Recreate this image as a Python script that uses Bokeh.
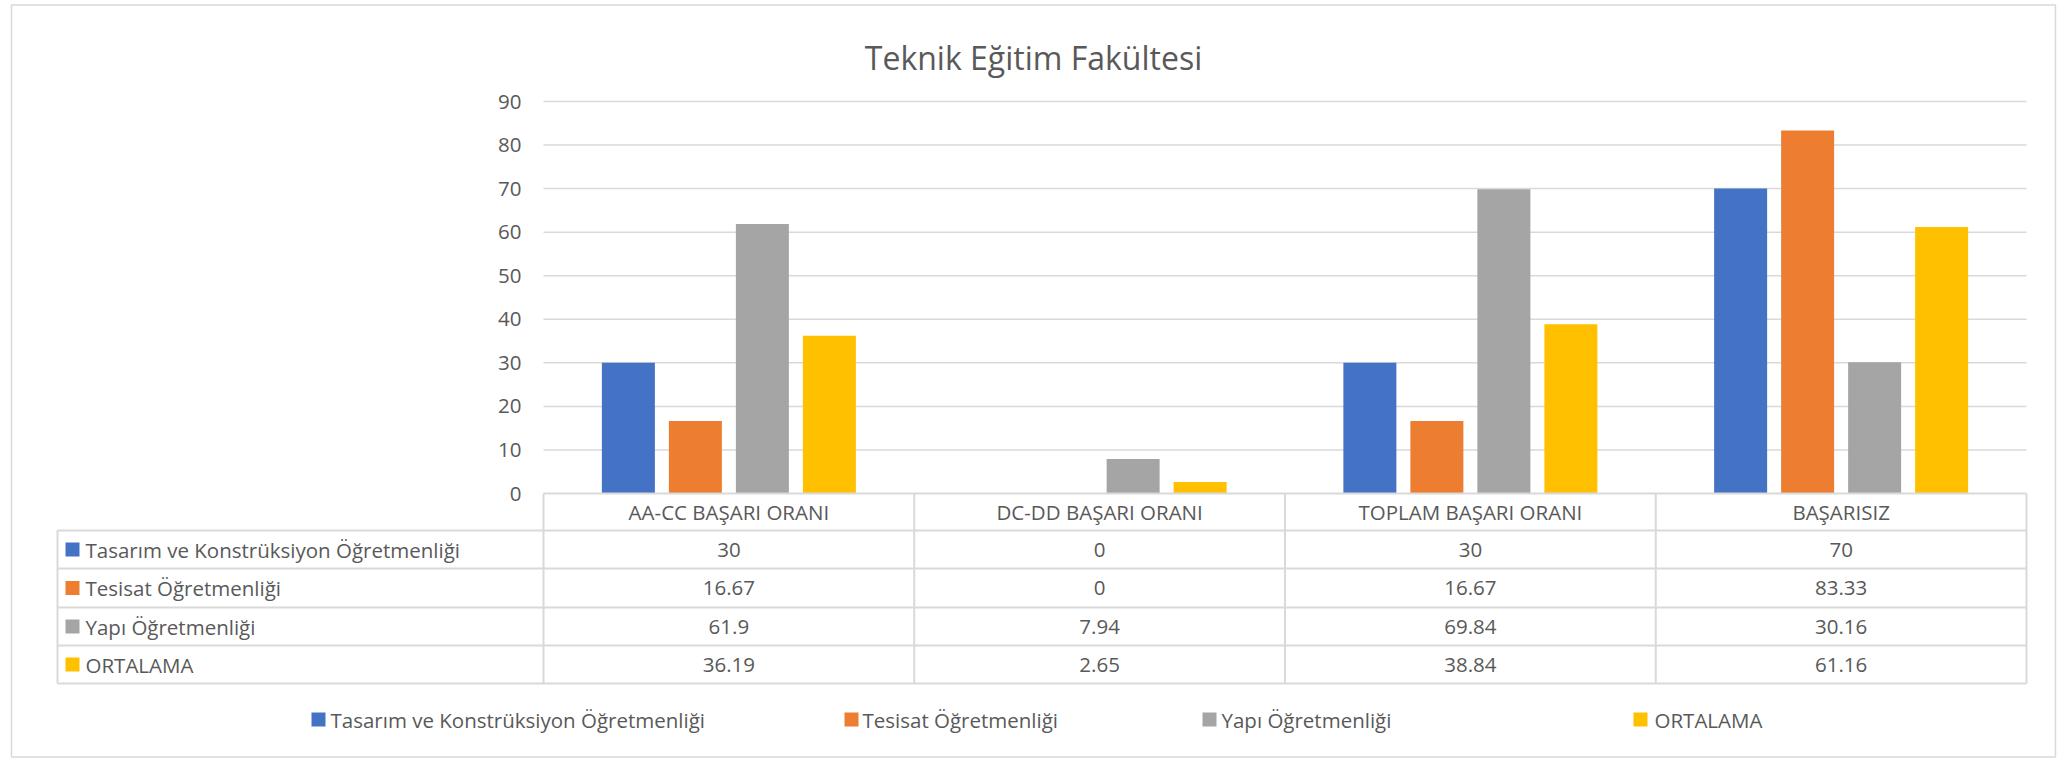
import numpy as np
from bokeh.plotting import figure
from bokeh.models import Range1d, ColumnDataSource
from bokeh.core.properties import value
from bokeh.embed import file_html
from bokeh.resources import INLINE

# ---------------- data ----------------
title_text = "Teknik Eğitim Fakültesi"
categories = ["AA-CC BAŞARI ORANI", "DC-DD BAŞARI ORANI", "TOPLAM BAŞARI ORANI", "BAŞARISIZ"]
series_names = ["Tasarım ve Konstrüksiyon Öğretmenliği", "Tesisat Öğretmenliği",
                "Yapı Öğretmenliği", "ORTALAMA"]
tasarim = [30, 0, 30, 70]
tesisat = [16.67, 0, 16.67, 83.33]
yapi = [61.9, 7.94, 69.84, 30.16]
ortalama = [36.19, 2.65, 38.84, 61.16]
y_ticks = [0, 10, 20, 30, 40, 50, 60, 70, 80, 90]

series_values = [tasarim, tesisat, yapi, ortalama]

# ---------------- styles / layout (page pixels) ----------------
colors = ["#4472C4", "#ED7D31", "#A5A5A5", "#FFC000"]
TEXT = "#595959"
GRID = "#D9D9D9"
FONT = value("Open Sans")
FS = "20.5px"

W, H = 2067, 758
MARGIN = 0
PLOT_L, PLOT_R = 543, 2026
Y_ZERO, Y_TOP = 493, 101
TABLE_L = 57
ROW_LINES = [530, 568, 607, 645, 683]
HEADER_C = 511.5
LEG_Y = 719
LEG_MARK_X = [318, 851, 1209, 1640]
LEG_TEXT_X = [330, 862, 1221, 1654]
BAR_W_PX = 53
BAR_STEP_PX = 67

UX = (PLOT_R - PLOT_L) / len(categories)
UY = (Y_ZERO - Y_TOP) / y_ticks[-1]


def dx(px):
    return (px - PLOT_L) / UX


def dy(py):
    return (Y_ZERO - py) / UY


p = figure(width=W, height=H, output_backend="svg", toolbar_location=None,
           x_range=Range1d(dx(MARGIN), dx(MARGIN + W)),
           y_range=Range1d(dy(MARGIN + H), dy(MARGIN)),
           x_axis_location=None, y_axis_location=None, min_border=0)
p.grid.grid_line_color = None
p.outline_line_color = None
p.background_fill_color = "white"
p.border_fill_color = "white"

# outer chart border
p.quad(left=dx(11), right=dx(2055), top=dy(4.5), bottom=dy(756.5),
       fill_color=None, line_color=GRID, line_width=1.5)

# title
p.text(x=[dx(1033)], y=[dy(57)], text=[title_text], text_font=FONT,
       text_font_size="32px", text_color=TEXT, text_align="center",
       text_baseline="alphabetic")

# gridlines
n_cat = len(categories)
gy = y_ticks[1:]
p.segment(x0=[0] * len(gy), x1=[n_cat] * len(gy), y0=gy, y1=gy,
          line_color=GRID, line_width=1.5)

# y tick labels
p.text(x=[dx(521)] * len(y_ticks), y=y_ticks, text=[str(t) for t in y_ticks],
       text_font=FONT, text_font_size=FS, text_color=TEXT,
       text_align="right", text_baseline="middle")

# bars
bar_w = BAR_W_PX / UX
step = BAR_STEP_PX / UX
centers = np.arange(n_cat) + 0.5
for i, (name, vals, col) in enumerate(zip(series_names, series_values, colors)):
    off = (i - (len(series_names) - 1) / 2) * step
    src = ColumnDataSource(dict(x=centers + off, top=vals))
    p.vbar(x="x", top="top", bottom=0, width=bar_w, source=src,
           fill_color=col, line_color=None)

# data table lines
h_y = [Y_ZERO] + ROW_LINES
h_x0 = [0] + [dx(TABLE_L)] * len(ROW_LINES)
p.segment(x0=h_x0, x1=[n_cat] * len(h_y), y0=[dy(v) for v in h_y],
          y1=[dy(v) for v in h_y], line_color=GRID, line_width=2)
v_x = list(range(n_cat + 1))
p.segment(x0=v_x, x1=v_x, y0=[0] * len(v_x), y1=[dy(ROW_LINES[-1])] * len(v_x),
          line_color=GRID, line_width=2)
p.segment(x0=[dx(TABLE_L)], x1=[dx(TABLE_L)], y0=[dy(ROW_LINES[0])],
          y1=[dy(ROW_LINES[-1])], line_color=GRID, line_width=2)

# header texts
p.text(x=list(centers), y=[dy(HEADER_C)] * n_cat, text=categories, text_font=FONT,
       text_font_size=FS, text_color=TEXT, text_align="center",
       text_baseline="middle")

# rows
row_centers = [(a + b) / 2 for a, b in zip(ROW_LINES[:-1], ROW_LINES[1:])]
for name, vals, col, rc in zip(series_names, series_values, colors, row_centers):
    p.scatter(x=[dx(72)], y=[dy(rc)], marker="square", size=14,
              fill_color=col, line_color=None)
    p.text(x=[dx(85)], y=[dy(rc)], text=[name], text_font=FONT, text_font_size=FS,
           text_color=TEXT, text_align="left", text_baseline="middle")
    p.text(x=list(centers), y=[dy(rc)] * n_cat, text=[f"{v:g}" for v in vals],
           text_font=FONT, text_font_size=FS, text_color=TEXT,
           text_align="center", text_baseline="middle")

# legend
for name, col, mx, tx in zip(series_names, colors, LEG_MARK_X, LEG_TEXT_X):
    p.scatter(x=[dx(mx)], y=[dy(LEG_Y)], marker="square", size=14,
              fill_color=col, line_color=None)
    p.text(x=[dx(tx)], y=[dy(LEG_Y)], text=[name], text_font=FONT, text_font_size=FS,
           text_color=TEXT, text_align="left", text_baseline="middle")

open("out.html", "w").write(file_html(p, INLINE))
